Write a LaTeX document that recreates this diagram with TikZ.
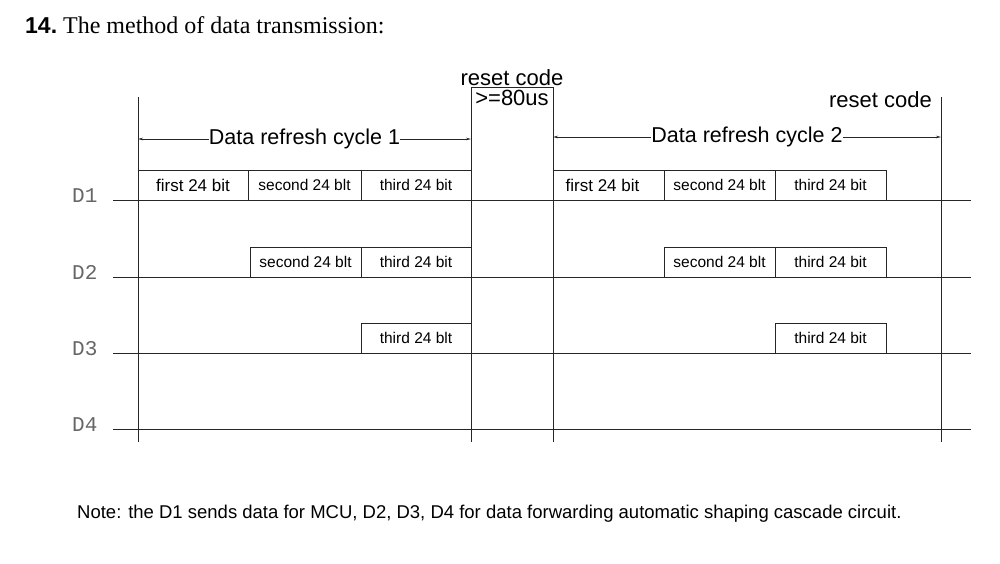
\documentclass[tikz,border=0pt]{standalone}
\usepackage{fontspec}
\setmainfont{Liberation Sans}
\newfontfamily\titlefont{Liberation Serif}
\newfontfamily\cadfont{Liberation Mono}
\usetikzlibrary{arrows.meta}
\usetikzlibrary{positioning}

\tikzset{
  grid/.style={black!85,line width=1pt},
  bitbox/.style={draw=black!85,line width=1pt,inner sep=0pt,outer sep=0pt,
    minimum height=30pt,font=\fontsize{15.5}{16}\selectfont},
  firstbox/.style={bitbox,font=\fontsize{17}{18}\selectfont},
  cyc/.style={black!85,line width=0.8pt,
    {Stealth[length=5pt,width=2.5pt]}-{Stealth[length=5pt,width=2.5pt]}},
  cyclab/.style={fill=white,inner sep=0pt,text=black,font=\fontsize{21.5}{22}\selectfont},
  dlab/.style={inner sep=0pt,text=black!60,font=\cadfont\fontsize{21}{22}\selectfont}
}

\begin{document}
\begin{tikzpicture}[x=1pt,y=-1pt]
  \useasboundingbox[fill=white] (0,0) rectangle (1000,563);

  % title and note
  \node[anchor=base west,inner sep=0pt] (title) at (25,33)
    {\fontsize{23}{24}\selectfont\textbf{14.}\titlefont\fontsize{24}{26}\selectfont\ The method of data transmission:};
  \node[anchor=base west,inner sep=0pt] (note) at (77,518)
    {\fontsize{18.5}{20}\selectfont Note: the D1 sends data for MCU, D2, D3, D4 for data forwarding automatic shaping cascade circuit.};

  % frame of the two cycles
  \coordinate (bot) at (0,442);
  \coordinate (L) at (138,97);
  \coordinate (R1) at (471,87);
  \coordinate (R2) at (553,87);
  \coordinate (R) at (941,97);
  \draw[grid] (L) -- (L |- bot);
  \draw[grid] (R |- bot) -- (R);
  \draw[grid] (R1 |- bot) -- (R1) -- (R2) -- (R2 |- bot);

  \node[anchor=base,inner sep=0pt,font=\fontsize{22}{22}\selectfont] (rc1) at (512,85) {reset code};
  \node[anchor=base,inner sep=0pt,font=\fontsize{22}{22}\selectfont] (us) at (512,105) {>=80us};
  \node[anchor=base east,inner sep=0pt,font=\fontsize{22}{22}\selectfont] (rc2) at (932,107) {reset code};

  \draw[cyc] (138,139) coordinate (c1a) -- node[cyclab] (cy1) {Data refresh cycle 1} (471,139) coordinate (c1b);
  \draw[cyc] (553,137) coordinate (c2a) -- node[cyclab] (cy2) {Data refresh cycle 2} (941,137) coordinate (c2b);

  % lines D1 .. D4
  \foreach \y/\n in {200/1,277/2,353/3,429/4} {
    \draw[grid] (113,\y) coordinate (s\n) -- (971,\y) coordinate (e\n);
    \node[dlab,anchor=base west] (lab\n) at (72,{\y+2}) {D\n};
  }

  % cycle 1
  \node[firstbox,anchor=south west,minimum width=110pt] (d1a) at (138,200) {first 24 bit};
  \node[bitbox,right=0pt of d1a,minimum width=113pt] (d1b) {second 24 blt};
  \node[bitbox,right=0pt of d1b,minimum width=110pt] (d1c) {third 24 bit};
  \node[bitbox,anchor=south west,minimum width=111pt] (d2b) at (250,277) {second 24 blt};
  \node[bitbox,right=0pt of d2b,minimum width=110pt] (d2c) {third 24 bit};
  \node[bitbox,anchor=south west,minimum width=110pt] (d3c) at (361,353) {third 24 blt};

  % cycle 2
  \node[firstbox,anchor=south west,minimum width=111pt] (f1a) at (553,200) {first 24 bit\hspace*{12pt}};
  \node[bitbox,right=0pt of f1a,minimum width=111pt] (f1b) {second 24 blt};
  \node[bitbox,right=0pt of f1b,minimum width=111pt] (f1c) {third 24 bit};
  \node[bitbox,anchor=south west,minimum width=111pt] (f2b) at (664,277) {second 24 blt};
  \node[bitbox,right=0pt of f2b,minimum width=111pt] (f2c) {third 24 bit};
  \node[bitbox,anchor=south west,minimum width=111pt] (f3c) at (775,353) {third 24 bit};
\end{tikzpicture}
\end{document}
